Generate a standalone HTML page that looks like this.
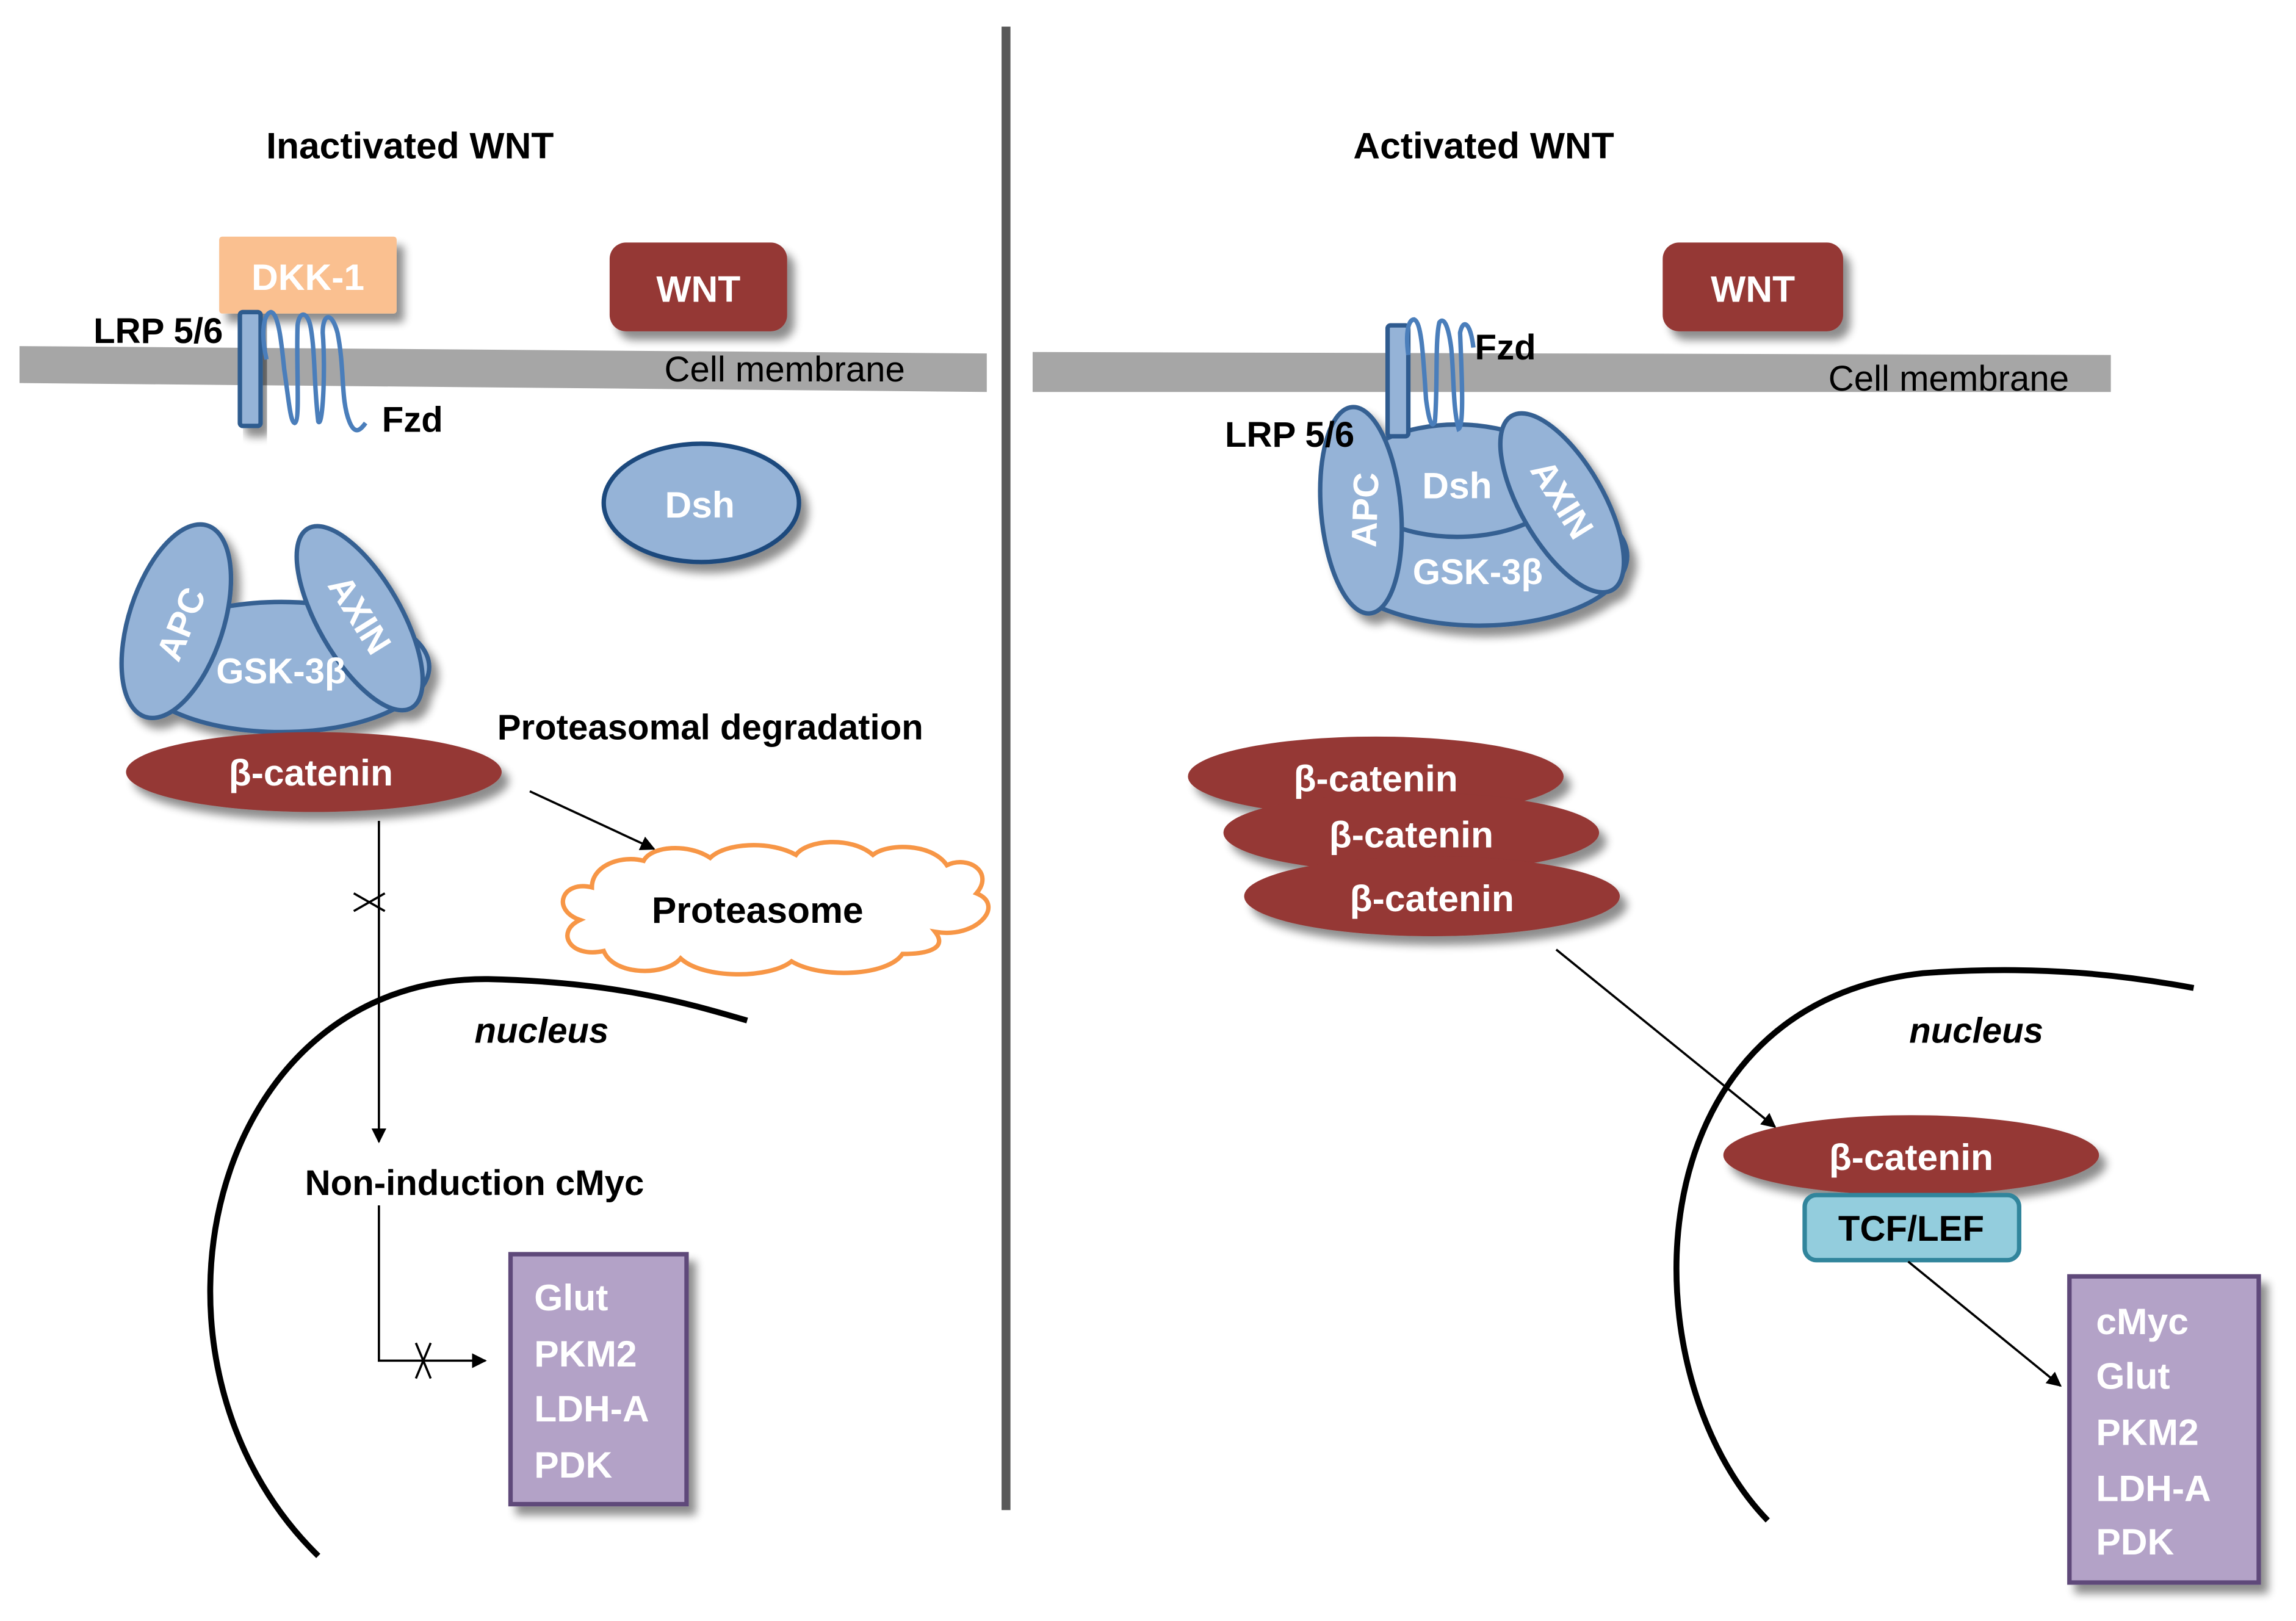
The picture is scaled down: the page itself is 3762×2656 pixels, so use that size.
<!DOCTYPE html>
<html><head><meta charset="utf-8"><style>
html,body{margin:0;padding:0;background:#fff;}
svg{display:block;}
text{font-family:"Liberation Sans","DejaVu Sans",sans-serif;}
</style></head><body>
<svg width="3762" height="2656" viewBox="0 0 1552 1096" xmlns="http://www.w3.org/2000/svg">
<defs>
<filter id="sh" x="-20%" y="-20%" width="150%" height="160%">
<feGaussianBlur in="SourceAlpha" stdDeviation="3"/>
<feOffset dx="5" dy="6" result="o"/>
<feComponentTransfer><feFuncA type="linear" slope="0.45"/></feComponentTransfer>
<feMerge><feMergeNode/><feMergeNode in="SourceGraphic"/></feMerge>
</filter>
<marker id="ar" markerWidth="10" markerHeight="10" refX="9" refY="5" orient="auto" markerUnits="userSpaceOnUse">
<path d="M0,0 L10,5 L0,10 z" fill="#000"/></marker>
</defs>
<rect width="1552" height="1096" fill="#fff"/>
<!-- divider -->
<rect x="677" y="18" width="6" height="1003" fill="#595959"/>
<!-- titles -->
<text x="277" y="107" font-size="25" font-weight="bold" text-anchor="middle">Inactivated WNT</text>
<text x="1003" y="107" font-size="25" font-weight="bold" text-anchor="middle">Activated WNT</text>
<!-- membranes -->
<polygon points="13,234 667,239 667,265 13,259" fill="#a6a6a6"/>
<polygon points="698,238 1427,240 1427,265 698,265" fill="#a6a6a6"/>
<text x="449" y="258" font-size="24">Cell membrane</text>
<text x="1236" y="264" font-size="24">Cell membrane</text>
<!-- DKK-1 -->
<rect x="148" y="160" width="120" height="52" rx="2" fill="#fac090" filter="url(#sh)"/>
<text x="208" y="196" font-size="25" font-weight="bold" fill="#fff" text-anchor="middle">DKK-1</text>
<!-- WNT boxes -->
<rect x="412" y="164" width="120" height="60" rx="11" fill="#953735" filter="url(#sh)"/>
<text x="472" y="204" font-size="25" font-weight="bold" fill="#fff" text-anchor="middle">WNT</text>
<rect x="1124" y="164" width="122" height="60" rx="11" fill="#953735" filter="url(#sh)"/>
<text x="1185" y="204" font-size="25" font-weight="bold" fill="#fff" text-anchor="middle">WNT</text>
<!-- left LRP/Fzd -->
<rect x="162" y="211" width="14" height="77" rx="2" fill="#95b3d7" stroke="#2f5b8f" stroke-width="3" filter="url(#sh)"/>
<path d="M180,243 C176,225 178,212 183,211 C188,212 190,230 192,250 C195,270 196,285 199,286 C203,285 200,250 201,220 C202,210 208,210 210,222 C213,240 212,260 215,285 C218,290 220,250 218,225 C218,212 224,210 228,225 C233,250 230,270 236,285 C240,295 244,290 247,286" fill="none" stroke="#4a7ebb" stroke-width="3"/>
<text x="63" y="232" font-size="24" font-weight="bold">LRP 5/6</text>
<text x="258" y="292" font-size="24" font-weight="bold">Fzd</text>
<!-- left Dsh -->
<ellipse cx="474" cy="340" rx="66" ry="40" fill="#95b3d7" stroke="#1f497d" stroke-width="3" filter="url(#sh)"/>
<text x="473" y="350" font-size="25" font-weight="bold" fill="#fff" text-anchor="middle">Dsh</text>
<!-- left complex -->
<g filter="url(#sh)">
<ellipse cx="190" cy="451" rx="100" ry="44" fill="#95b3d7" stroke="#366092" stroke-width="3"/>
<ellipse cx="119" cy="420" rx="32" ry="68" transform="rotate(18 119 420)" fill="#95b3d7" stroke="#366092" stroke-width="3"/>
<ellipse cx="243" cy="418" rx="28" ry="70" transform="rotate(-30 243 418)" fill="#95b3d7" stroke="#366092" stroke-width="3"/>
</g>
<text x="190" y="462" font-size="24" font-weight="bold" fill="#fff" text-anchor="middle">GSK-3β</text>
<text transform="translate(130,425) rotate(-68)" font-size="24" font-weight="bold" fill="#fff" text-anchor="middle">APC</text>
<text transform="translate(236,420) rotate(58)" font-size="24" font-weight="bold" fill="#fff" text-anchor="middle">AXIN</text>
<!-- left beta-catenin -->
<ellipse cx="212" cy="522" rx="127" ry="27" fill="#953735" filter="url(#sh)"/>
<text x="210" y="531" font-size="25" font-weight="bold" fill="#fff" text-anchor="middle">β-catenin</text>
<text x="336" y="500" font-size="24" font-weight="bold">Proteasomal degradation</text>
<line x1="358" y1="535" x2="442" y2="574" stroke="#000" stroke-width="1.5" marker-end="url(#ar)"/>
<!-- cloud -->
<path d="M400,600 C380,595 372,615 392,622 C375,630 385,648 408,643 C415,660 450,660 460,648 C475,662 520,662 535,650 C555,662 600,660 610,645 C630,645 640,640 632,630 C660,635 680,612 660,604 C672,590 655,578 640,585 C630,570 600,570 590,578 C575,565 545,568 538,578 C520,568 490,570 480,580 C465,570 440,572 435,582 C420,578 400,585 400,600 Z" fill="#fff" stroke="#f79646" stroke-width="3"/>
<text x="512" y="624" font-size="25" font-weight="bold" text-anchor="middle">Proteasome</text>
<!-- left arrows -->
<line x1="256" y1="555" x2="256" y2="772" stroke="#000" stroke-width="1.5" marker-end="url(#ar)"/>
<path d="M239,604 L260,616 M239,616 L260,604" stroke="#000" stroke-width="1.5"/>
<path d="M256,815 L256,920 L328,920" fill="none" stroke="#000" stroke-width="1.5" marker-end="url(#ar)"/>
<path d="M281,908 L291,932 M291,908 L281,932" stroke="#000" stroke-width="1.5"/>
<!-- nucleus left -->
<path d="M215,1052 C80,920 140,660 330,662 C420,664 470,680 505,690" fill="none" stroke="#000" stroke-width="4"/>
<text x="366" y="705" font-size="24" font-weight="bold" font-style="italic" text-anchor="middle">nucleus</text>
<text x="206" y="808" font-size="24" font-weight="bold">Non-induction cMyc</text>
<!-- purple left -->
<rect x="345" y="848" width="119" height="169" fill="#b3a2c7" stroke="#5f497a" stroke-width="3" filter="url(#sh)"/>
<g font-size="25" font-weight="bold" fill="#fff">
<text x="361" y="886">Glut</text><text x="361" y="924">PKM2</text><text x="361" y="961">LDH-A</text><text x="361" y="999">PDK</text>
</g>
<!-- right complex -->
<g filter="url(#sh)">
<ellipse cx="1000" cy="376" rx="100" ry="47" fill="#95b3d7" stroke="#366092" stroke-width="3"/>
<ellipse cx="985" cy="325" rx="72" ry="38" fill="#95b3d7" stroke="#366092" stroke-width="3"/>
<ellipse cx="1056" cy="340" rx="28" ry="68" transform="rotate(-30 1056 340)" fill="#95b3d7" stroke="#366092" stroke-width="3"/>
<ellipse cx="920" cy="345" rx="27" ry="70" transform="rotate(-5 920 345)" fill="#95b3d7" stroke="#366092" stroke-width="3"/>
</g>
<rect x="938" y="220" width="14" height="75" rx="2" fill="#95b3d7" stroke="#2f5b8f" stroke-width="3"/>
<path d="M952,240 C950,225 952,216 956,216 C961,218 962,240 964,270 C966,285 968,290 970,285 C972,260 970,230 973,218 C976,214 979,220 981,235 C983,255 982,275 986,290 C990,288 988,250 987,225 C989,215 994,218 996,235" fill="none" stroke="#4a7ebb" stroke-width="3"/>
<text x="997" y="243" font-size="24" font-weight="bold">Fzd</text>
<text x="828" y="302" font-size="24" font-weight="bold">LRP 5/6</text>
<text x="985" y="337" font-size="25" font-weight="bold" fill="#fff" text-anchor="middle">Dsh</text>
<text x="999" y="395" font-size="24" font-weight="bold" fill="#fff" text-anchor="middle">GSK-3β</text>
<text transform="translate(931,345) rotate(-88)" font-size="24" font-weight="bold" fill="#fff" text-anchor="middle">APC</text>
<text transform="translate(1049,342) rotate(58)" font-size="24" font-weight="bold" fill="#fff" text-anchor="middle">AXIN</text>
<!-- right beta-catenins -->
<ellipse cx="930" cy="525" rx="127" ry="27" fill="#953735" filter="url(#sh)"/>
<text x="930" y="535" font-size="25" font-weight="bold" fill="#fff" text-anchor="middle">β-catenin</text>
<ellipse cx="954" cy="563" rx="127" ry="27" fill="#953735" filter="url(#sh)"/>
<text x="954" y="573" font-size="25" font-weight="bold" fill="#fff" text-anchor="middle">β-catenin</text>
<ellipse cx="968" cy="606" rx="127" ry="27" fill="#953735" filter="url(#sh)"/>
<text x="968" y="616" font-size="25" font-weight="bold" fill="#fff" text-anchor="middle">β-catenin</text>
<line x1="1052" y1="642" x2="1200" y2="762" stroke="#000" stroke-width="1.5" marker-end="url(#ar)"/>
<!-- nucleus right -->
<path d="M1195,1028 C1100,930 1100,680 1300,658 C1380,652 1440,660 1483,668" fill="none" stroke="#000" stroke-width="4"/>
<text x="1336" y="705" font-size="24" font-weight="bold" font-style="italic" text-anchor="middle">nucleus</text>
<ellipse cx="1292" cy="781" rx="127" ry="27" fill="#953735" filter="url(#sh)"/>
<text x="1292" y="791" font-size="25" font-weight="bold" fill="#fff" text-anchor="middle">β-catenin</text>
<rect x="1220" y="808" width="145" height="44" rx="8" fill="#93cddd" stroke="#31859c" stroke-width="3"/>
<text x="1292" y="839" font-size="24" font-weight="bold" text-anchor="middle">TCF/LEF</text>
<line x1="1290" y1="853" x2="1393" y2="937" stroke="#000" stroke-width="1.5" marker-end="url(#ar)"/>
<rect x="1399" y="863" width="128" height="207" fill="#b3a2c7" stroke="#5f497a" stroke-width="3" filter="url(#sh)"/>
<g font-size="25" font-weight="bold" fill="#fff">
<text x="1417" y="902">cMyc</text><text x="1417" y="939">Glut</text><text x="1417" y="977">PKM2</text><text x="1417" y="1015">LDH-A</text><text x="1417" y="1051">PDK</text>
</g>
</svg>
</body></html>
